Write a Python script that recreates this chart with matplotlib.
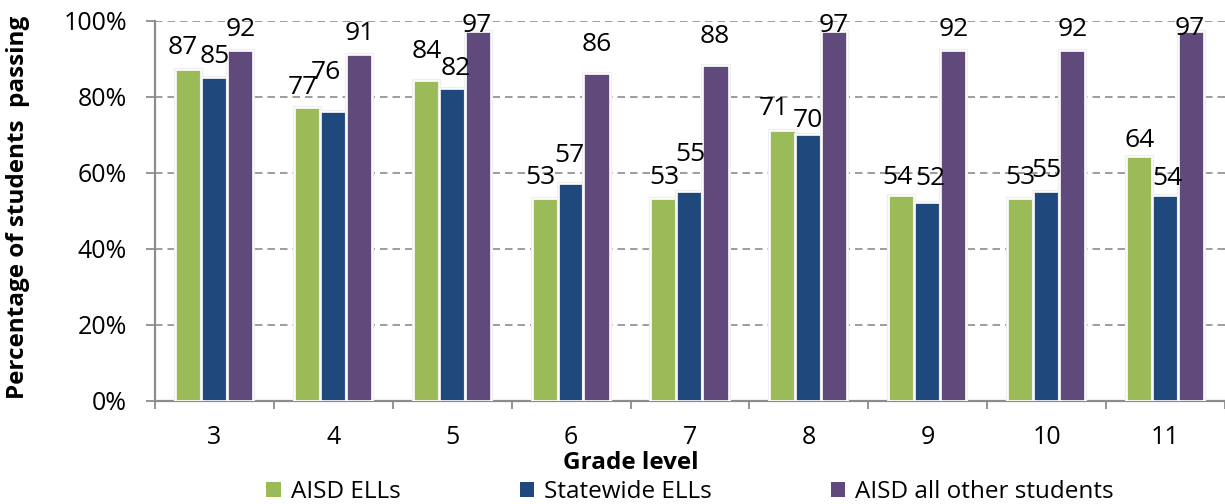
import matplotlib
matplotlib.use("Agg")
import matplotlib.pyplot as plt
import matplotlib.patheffects as pe
from matplotlib.patches import Patch
from matplotlib.ticker import FixedLocator, PercentFormatter
import numpy as np

# ---- data -------------------------------------------------------------
grades = ["3", "4", "5", "6", "7", "8", "9", "10", "11"]
aisd_ells = [87, 77, 84, 53, 53, 71, 54, 53, 64]
statewide_ells = [85, 76, 82, 57, 55, 70, 52, 55, 54]
aisd_other = [92, 91, 97, 86, 88, 97, 92, 92, 97]
series_names = ["AISD ELLs", "Statewide ELLs", "AISD all other students"]
y_ticks = [0, 20, 40, 60, 80, 100]

# ---- style ------------------------------------------------------------
colors = ["#9BBB59", "#1F497D", "#604A7B"]
FONT = ["Open Sans", "DejaVu Sans"]
plt.rcParams["font.family"] = FONT
GRAY = "#8C8C8C"
FS = 18
LABEL_FS = 19
TITLE_FS = 17.5

# label nudges in pixels (dx, dy) so neighbouring values do not collide
nudges = {
    (0, 0): (-6, 1), (0, 1): (-5, -1), (1, 1): (-7, 18), (0, 2): (0, 8),
    (1, 2): (4, -1), (2, 2): (-1, -15), (0, 3): (-5, 0), (1, 3): (-2, 7),
    (2, 3): (0, 8), (1, 4): (0, 16), (2, 4): (-1, 8), (0, 5): (-9, 1),
    (1, 5): (-1, -7), (2, 5): (-1, -15), (0, 6): (-4, -3), (1, 6): (3, 3),
    (0, 8): (0, -5), (1, 8): (2, -4), (2, 8): (-2, -18),
}

DPI = 100
fig = plt.figure(figsize=(12.25, 5.04), dpi=DPI)
ax = fig.add_axes([155 / 1225, 103 / 504, 1 - 155 / 1225, (401 - 20.5) / 504])

x = np.arange(len(grades))
offset = 0.218
width = 0.212
px = 72 / DPI  # points per pixel

for si, (vals, col) in enumerate(zip([aisd_ells, statewide_ells, aisd_other], colors)):
    bars = ax.bar(x + (si - 1) * offset, vals, width, color=col,
                  edgecolor="white", linewidth=1.2, zorder=3,
                  label=series_names[si])
    for b in bars:
        b.set_path_effects([pe.Stroke(linewidth=3, foreground="#EFEFEF"), pe.Normal()])
    for gi, (b, v) in enumerate(zip(bars, vals)):
        dx, dy = nudges.get((si, gi), (0, 0))
        ax.annotate(f"{v}", (b.get_x() + b.get_width() / 2, v),
                    xytext=(dx * px, (9 + dy) * px), textcoords="offset points",
                    ha="center", va="bottom", fontsize=LABEL_FS, color="black",
                    zorder=5, annotation_clip=False)

ax.set_xlim(-0.5, len(grades) - 0.5)
ax.set_ylim(0, 100)
ax.yaxis.set_major_locator(FixedLocator(y_ticks))
ax.yaxis.set_major_formatter(PercentFormatter(decimals=0))
ax.set_xticks(x)
ax.set_xticklabels(grades)
ax.set_xticks(np.arange(-0.5, len(grades), 1), minor=True)

ax.grid(axis="y", color=GRAY, linestyle=(0, (4.5, 3)), linewidth=1.2, zorder=0)
ax.tick_params(axis="x", which="major", length=0, pad=24 * px, labelsize=FS)
ax.tick_params(axis="x", which="minor", length=8 * px, width=1.3, color=GRAY)
ax.tick_params(axis="y", length=9 * px, width=1.3, color=GRAY, pad=19 * px,
               labelsize=FS)

for s in ["top", "right"]:
    ax.spines[s].set_visible(False)
for s in ["left", "bottom"]:
    ax.spines[s].set_color(GRAY)
    ax.spines[s].set_linewidth(1.6)

fig.text(18 / 1225, 1 - 207 / 504, "Percentage of students  passing",
         rotation=90, ha="center", va="center", fontsize=TITLE_FS, fontweight="bold")
fig.text(631 / 1225, 1 - 463 / 504, "Grade level", ha="center", va="center",
         fontsize=TITLE_FS, fontweight="bold")

handles = [Patch(facecolor=c, edgecolor="none") for c in colors]
fig.legend(handles, series_names, loc="center", bbox_to_anchor=(690 / 1225, 1 - 492 / 504),
           ncol=3, frameon=False, fontsize=17.5, handlelength=0.6, handleheight=0.6,
           handletextpad=0.4, columnspacing=4.9, borderpad=0, borderaxespad=0)

fig.savefig("out.png", dpi=DPI)
